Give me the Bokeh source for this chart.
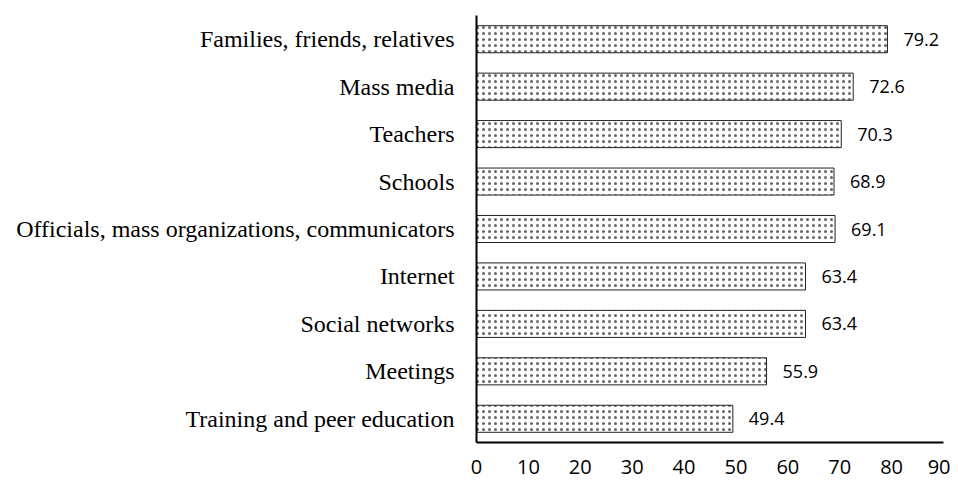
from bokeh.plotting import figure
from bokeh.models import ColumnDataSource, FactorRange, Range1d, FixedTicker
from bokeh.core.properties import value
from bokeh.embed import file_html
from bokeh.resources import INLINE

categories = [
    "Families, friends, relatives",
    "Mass media",
    "Teachers",
    "Schools",
    "Officials, mass organizations, communicators",
    "Internet",
    "Social networks",
    "Meetings",
    "Training and peer education",
]
values = [79.2, 72.6, 70.3, 68.9, 69.1, 63.4, 63.4, 55.9, 49.4]
labels = ["79.2", "72.6", "70.3", "68.9", "69.1", "63.4", "63.4", "55.9", "49.4"]
x_ticks = [0, 10, 20, 30, 40, 50, 60, 70, 80, 90]

src = ColumnDataSource(dict(cat=categories, val=values, lab=labels))

p = figure(
    width=950, height=478,
    y_range=FactorRange(*reversed(categories)),
    x_range=Range1d(0, 90),
    output_backend="svg", toolbar_location=None,
    min_border_left=476, min_border_right=7,
    min_border_top=15, min_border_bottom=36,
)
p.outline_line_color = None
p.xgrid.visible = False
p.ygrid.visible = False
p.background_fill_color = "white"

p.hbar(y="cat", left=0, right="val", height=0.57, source=src,
       fill_color="white", line_color="#222222", line_width=1,
       hatch_pattern="dot", hatch_scale=6, hatch_color="black",
       hatch_weight=0.6, hatch_alpha=0.6)

p.text(x="val", y="cat", text="lab", source=src, x_offset=16,
       text_baseline="middle", text_align="left",
       text_font=value("Open Sans"), text_font_size="18px", text_color="black")

p.xaxis.ticker = FixedTicker(ticks=x_ticks)
p.xaxis.axis_line_color = "black"
p.xaxis.axis_line_width = 2
p.xaxis.major_tick_line_color = None
p.xaxis.minor_tick_line_color = None
p.xaxis.major_tick_out = 0
p.xaxis.major_label_standoff = 17
p.xaxis.major_label_text_font = "Open Sans"
p.xaxis.major_label_text_font_size = "20px"
p.xaxis.major_label_text_color = "black"

p.yaxis.axis_line_color = "black"
p.yaxis.axis_line_width = 2
p.yaxis.major_tick_line_color = None
p.yaxis.minor_tick_line_color = None
p.yaxis.major_tick_out = 0
p.yaxis.major_label_standoff = 22
p.yaxis.major_label_text_font = "Liberation Serif"
p.yaxis.major_label_text_font_size = "24px"
p.yaxis.major_label_text_color = "black"

open("out.html", "w").write(file_html(p, INLINE))
